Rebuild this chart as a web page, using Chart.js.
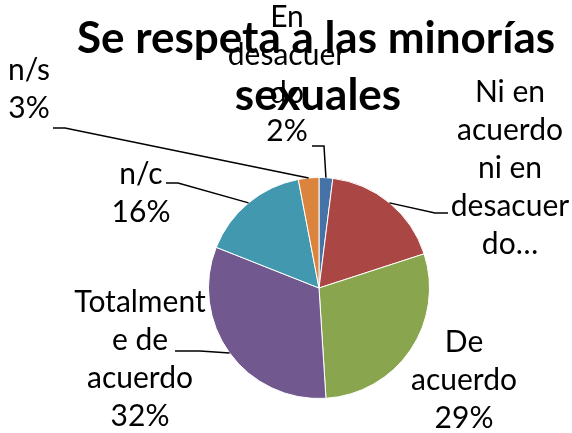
<!DOCTYPE html>
<html>
<head>
<meta charset="utf-8">
<script src="https://cdn.jsdelivr.net/npm/chart.js@4"></script>
<style>
  html, body { margin: 0; padding: 0; background: #fff; }
  #contenedor { width: 572px; height: 433px; }
</style>
</head>
<body>
<div id="contenedor"><canvas id="torta"></canvas></div>
<script>
// Datos del gráfico
const titulo = ["Se respeta a las minorías", "sexuales"];
const categorias = ["En desacuerdo", "Ni en acuerdo ni en desacuerdo", "De acuerdo", "Totalmente de acuerdo", "n/c", "n/s"];
const valores = [2, 18, 29, 32, 16, 3];
// Texto de cada etiqueta, tal como aparece partido en líneas
const etiquetas = [
  ["En", "desacuer", "do"],
  ["Ni en", "acuerdo", "ni en", "desacuer", "do…"],
  ["De", "acuerdo"],
  ["Totalment", "e de", "acuerdo"],
  ["n/c"],
  ["n/s"]
];
const conPorcentaje = [true, false, true, true, true, true];

const colores = ["#4572A7", "#AA4643", "#89A54E", "#71588F", "#4198AF", "#DB843D"];

// Posición de las etiquetas (centro x, primera línea base y) y de las líneas guía
const ubicacion = [
  { x: 287, y: 27, guia: [[324, 146], [312, 146]] },
  { x: 510, y: 102, guia: [[435, 213], [448, 213]] },
  { x: 464, y: 352, guia: null },
  { x: 140, y: 312, guia: [[200, 351], [175, 351]] },
  { x: 141, y: 184, guia: [[178, 183], [166, 183]] },
  { x: 29, y: 80, guia: [[65, 128], [53, 128]] }
];

const total = valores.reduce((a, b) => a + b, 0);

// Plugin para dibujar el título y las etiquetas con sus líneas
const etiquetasPlugin = {
  id: "etiquetas",
  afterDraw(chart) {
    const ctx = chart.ctx;
    const meta = chart.getDatasetMeta(0);
    ctx.save();

    // título
    ctx.fillStyle = "#000";
    ctx.textAlign = "center";
    ctx.textBaseline = "alphabetic";
    ctx.font = "bold 44px Lato";
    ctx.fillText(titulo[0], 316, 53);
    ctx.fillText(titulo[1], 318, 110);

    // líneas guía
    ctx.strokeStyle = "#000";
    ctx.lineWidth = 1.5;
    meta.data.forEach((arco, i) => {
      const u = ubicacion[i];
      if (!u.guia) return;
      const ang = (arco.startAngle + arco.endAngle) / 2;
      const x0 = arco.x + Math.cos(ang) * arco.outerRadius;
      const y0 = arco.y + Math.sin(ang) * arco.outerRadius;
      ctx.beginPath();
      ctx.moveTo(x0, y0);
      u.guia.forEach(p => ctx.lineTo(p[0], p[1]));
      ctx.stroke();
    });

    // textos
    ctx.font = "30px Lato";
    etiquetas.forEach((lineas, i) => {
      const u = ubicacion[i];
      let texto = lineas.slice();
      if (conPorcentaje[i]) {
        texto.push(Math.round(valores[i] / total * 100) + "%");
      }
      texto.forEach((t, j) => {
        ctx.fillText(t, u.x, u.y + j * 38);
      });
    });

    ctx.restore();
  }
};

const ctx = document.getElementById("torta").getContext("2d");
const chart = new Chart(ctx, {
  type: "pie",
  data: {
    labels: categorias,
    datasets: [{
      data: valores,
      backgroundColor: colores,
      borderColor: "#ffffff",
      borderWidth: 1
    }]
  },
  options: {
    responsive: true,
    maintainAspectRatio: false,
    animation: false,
    layout: {
      padding: { left: 208, right: 142, top: 177, bottom: 34 }
    },
    plugins: {
      legend: { display: false },
      tooltip: { enabled: false },
      title: { display: false }
    }
  },
  plugins: [etiquetasPlugin]
});
</script>
</body>
</html>
